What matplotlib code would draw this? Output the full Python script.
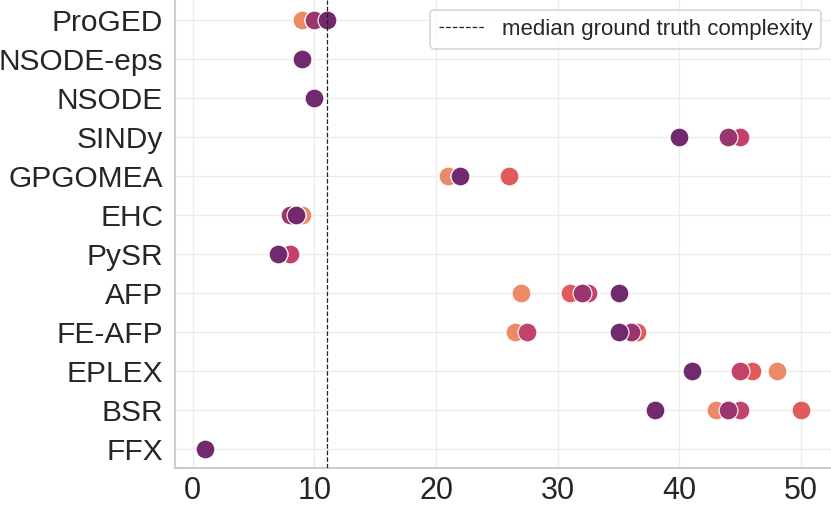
"""
Complexity of the found models per method, coloured by noise level
"""

import numpy as np
import matplotlib.pyplot as plt

plt.close('all')
plt.rcParams['font.family'] = ['Liberation Sans', 'DejaVu Sans']

# methods, top to bottom
methods = ['ProGED', 'NSODE-eps', 'NSODE', 'SINDy', 'GPGOMEA', 'EHC', 'PySR',
           'AFP', 'FE-AFP', 'EPLEX', 'BSR', 'FFX']

# complexity per method, one list per hue level (drawn in this order)
level_0 = [9, 9, 10, 45, 21, 9, 8, 27, 26.5, 48, 43, 1]
level_1 = [10, 9, 10, 45, 26, 8.5, 8, 31, 36.5, 46, 50, 1]
level_2 = [10, 9, 10, 45, 22, 8.5, 8, 32.5, 27.5, 45, 45, 1]
level_3 = [10, 9, 10, 44, 22, 8, 7, 32, 36, 41, 44, 1]
level_4 = [11, 9, 10, 40, 22, 8.5, 7, 35, 35, 41, 38, 1]
levels = [level_0, level_1, level_2, level_3, level_4]
level_colors = ['#ec8a67', '#e05b5b', '#c3426a', '#9b3570', '#712a6d']

median_complexity = 11

fig = plt.figure(figsize=(8.31, 5.07), dpi=100)
ax = fig.add_axes([175/831, 39/507, 656/831, 468/507])

ypos = np.arange(len(methods))
for vals, col in zip(levels, level_colors):
    ax.scatter(vals, ypos, s=185, color=col, edgecolor='white',
               linewidth=0.8, zorder=2)

ax.axvline(median_complexity, color='#222222', ls='--', lw=0.9, zorder=3,
           label='median ground truth complexity')

ax.set_yticks(ypos)
ax.set_yticklabels(methods)
ax.set_ylim(len(methods) - 0.5, -0.5)
ax.set_xticks([0, 10, 20, 30, 40, 50])
ax.set_xlim(-1.45, 52.45)

ax.grid(True, color='#ececec', lw=1, zorder=0)
ax.set_axisbelow(True)
for side in ['top', 'right']:
    ax.spines[side].set_visible(False)
for side in ['left', 'bottom']:
    ax.spines[side].set_color('#cccccc')
    ax.spines[side].set_linewidth(1.5)
ax.tick_params(axis='y', length=0, pad=8.5, labelsize=21.5, labelcolor='#262626')
ax.tick_params(axis='x', length=0, pad=6, labelsize=22, labelcolor='#262626')

leg = ax.legend(loc='upper right', fontsize=16, frameon=True, fancybox=True,
                borderaxespad=0.45)
leg.get_frame().set_edgecolor('#cccccc')
leg.get_frame().set_linewidth(1.2)
for t in leg.get_texts():
    t.set_color('#262626')

plt.savefig('out.png', dpi=100)
